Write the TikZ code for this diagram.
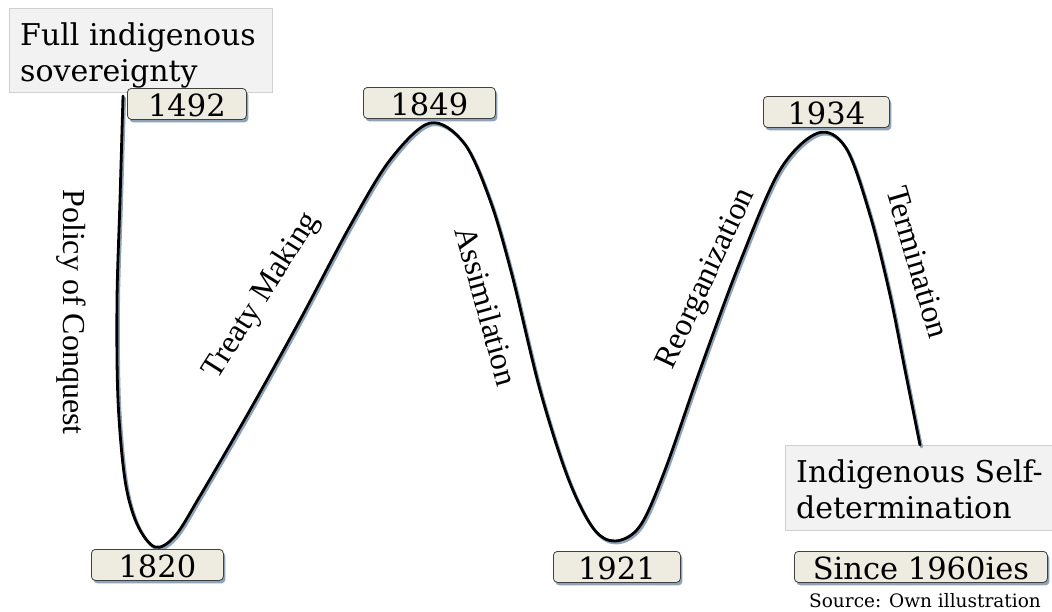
\documentclass[tikz,border=0pt]{standalone}
\usepackage{fontspec}
\setmainfont{Liberation Serif}
\newfontfamily\boxfont{DejaVu Serif}
\usetikzlibrary{shadows}
\definecolor{yearfill}{HTML}{EEECE1}
\definecolor{shadowcol}{HTML}{8EA2B8}
\definecolor{notefill}{HTML}{F2F2F2}
\definecolor{noteline}{HTML}{D0D0D0}
\tikzset{
  yearbox/.style={draw=black!75, line width=0.8pt, rounded corners=4pt, fill=yearfill,
    drop shadow={shadow xshift=2pt, shadow yshift=-3pt, fill=shadowcol, opacity=1},
    font=\boxfont\fontsize{30.5}{34}\selectfont, text height=25pt, text depth=0pt,
    inner ysep=3pt, inner xsep=0pt, anchor=north west},
  notebox/.style={draw=noteline, line width=0.6pt, fill=notefill, anchor=north west, inner sep=0pt},
  notetext/.style={font=\boxfont\fontsize{30}{35.5}\selectfont, align=left, inner sep=0pt, anchor=base west},
  phase/.style={font=\fontsize{32}{36}\selectfont, inner sep=0pt},
  wave/.style={line width=2.8pt, line join=round, line cap=round},
}
\begin{document}
\begin{tikzpicture}[x=1pt,y=-1pt]
\useasboundingbox (0,0) rectangle (1052,611);
% note boxes
\node[notebox, minimum width=263pt, minimum height=84pt] (full) at (9,8) {};
\node[notetext] (fulltxt) at (20,81) {Full indigenous\\sovereignty};
\node[notebox, minimum width=267pt, minimum height=85pt] (self) at (785,445) {};
\node[notetext] (selftxt) at (796,518) {Indigenous Self-\\determination};
% wave
\coordinate (s) at (123,96);
\coordinate (e) at (920,445);
\def\wavepath{plot[smooth, tension=0.55] coordinates {(123,96) (120,200) (117,300) (118,400) (125,480) (137,524) (155,547) (175,536) (200,496) (250,410) (300,320) (350,226) (390,160) (430,123) (464,143) (490,200) (512,275) (540,390) (568,478) (593,528) (615,541) (640,526) (665,470) (700,370) (740,262) (780,170) (818,133) (846,148) (870,215) (890,295) (905,370) (920,445)}}
\draw[wave, shadowcol, xshift=1.6pt, yshift=-2pt] \wavepath;
\draw[wave, black] \wavepath;
% year boxes
\node[yearbox, minimum width=119pt] (y1492) at (127,88) {1492};
\node[yearbox, minimum width=132pt] (y1849) at (363,87) {1849};
\node[yearbox, minimum width=126pt] (y1934) at (763,96) {1934};
\node[yearbox, minimum width=132pt] (y1820) at (91,549) {1820};
\node[yearbox, minimum width=127pt] (y1921) at (553,551) {1921};
\node[yearbox, minimum width=253pt] (y1960) at (794,551) {Since 1960ies};
% phase labels
\node[phase, rotate=-90] (conquest) at (71,312) {Policy of Conquest};
\node[phase, rotate=57.7] (treaty) at (262,296) {Treaty Making};
\node[phase, rotate=-74.6] (assim) at (487,306) {Assimilation};
\node[phase, rotate=65] (reorg) at (707,279) {Reorganization};
\node[phase, rotate=-73.7] (term) at (918,262) {Termination};
% source
\node[font=\boxfont\fontsize{18.5}{20}\selectfont, anchor=base east, inner sep=0pt] (src) at (1041,607) {Source: Own illustration};
\end{tikzpicture}
\end{document}
